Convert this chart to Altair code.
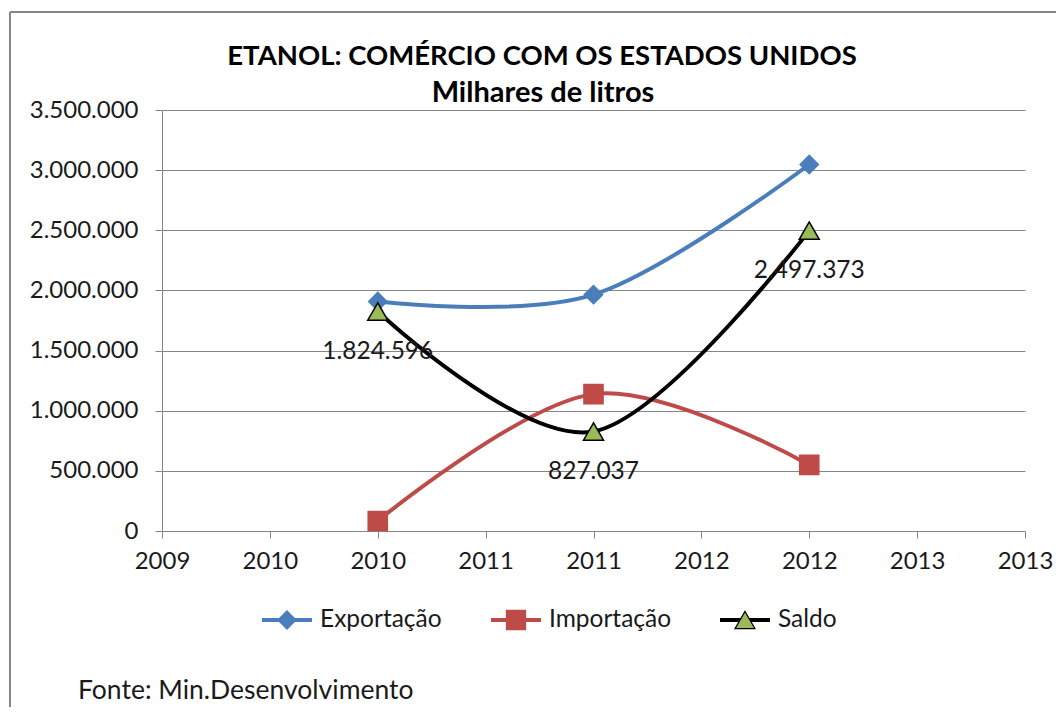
import altair as alt
import pandas as pd

# ---- data ----
years = [2010, 2011, 2012]
series = ["Exportação", "Importação", "Saldo"]
exportacao = [1908000, 1965000, 3047000]
importacao = [83404, 1137963, 549627]
saldo = [1824596, 827037, 2497373]
x_ticks = [2009, 2009.5, 2010, 2010.5, 2011, 2011.5, 2012, 2012.5, 2013]
y_ticks = [0, 500000, 1000000, 1500000, 2000000, 2500000, 3000000, 3500000]
title_text = "ETANOL: COMÉRCIO COM OS ESTADOS UNIDOS"
subtitle_text = "Milhares de litros"
source_text = "Fonte: Min.Desenvolvimento"

line_colors = ["#4A7EBB", "#BE4B48", "#000000"]
fill_colors = ["#4A7EBB", "#BE4B48", "#9BBB59"]
shapes = ["diamond", "square", "triangle-up"]
FONT = "Lato"
LBL = 24

rows = []
for s, vals in zip(series, [exportacao, importacao, saldo]):
    for y, v in zip(years, vals):
        rows.append({"ano": y, "serie": s, "valor": v})
df = pd.DataFrame(rows)
leg = pd.DataFrame({"serie": series})
one = pd.DataFrame({"k": [0]})

dot_fmt = "replace(format(datum.value, ','), regexp(',', 'g'), '.')"

x_enc = alt.X(
    "ano:Q",
    scale=alt.Scale(domain=[2009, 2013], nice=False, zero=False),
    axis=alt.Axis(
        values=x_ticks, labelExpr="format(round(datum.value), 'd')", title=None,
        grid=False, tickSize=7, labelPadding=11, labelFontSize=LBL, labelFont=FONT,
        labelColor="#1a1a1a", domainColor="#868686", tickColor="#868686",
        labelFlush=False, labelOverlap=False,
    ),
)
y_enc = alt.Y(
    "valor:Q",
    scale=alt.Scale(domain=[0, 3500000], nice=False),
    axis=alt.Axis(
        values=y_ticks, labelExpr=dot_fmt, title=None, grid=True,
        gridColor="#868686", tickSize=7, labelPadding=17, labelFontSize=LBL,
        labelFont=FONT, labelColor="#1a1a1a", domainColor="#868686",
        tickColor="#868686", labelOverlap=False,
    ),
)

stroke_scale = alt.Scale(domain=series, range=line_colors)
fill_scale = alt.Scale(domain=series, range=fill_colors)
shape_scale = alt.Scale(domain=series, range=shapes)

lines = alt.Chart(df).mark_line(interpolate="cardinal", tension=0, strokeWidth=4).encode(
    x=x_enc, y=y_enc,
    color=alt.Color("serie:N", scale=stroke_scale, legend=None),
)

points = alt.Chart(df).mark_point(filled=True, opacity=1, strokeWidth=1.5).encode(
    x=x_enc, y=y_enc,
    shape=alt.Shape("serie:N", scale=shape_scale, legend=None),
    fill=alt.Fill("serie:N", scale=fill_scale, legend=None),
    stroke=alt.Stroke("serie:N", scale=stroke_scale, legend=None),
    size=alt.Size("serie:N", scale=alt.Scale(domain=series, range=[330, 400, 420]), legend=None),
)

labels = alt.Chart(df).transform_filter(
    alt.datum.serie == "Saldo"
).transform_calculate(
    rotulo="replace(format(datum.valor, ','), regexp(',', 'g'), '.')"
).mark_text(dy=40, fontSize=24.5, font=FONT, color="#1a1a1a", baseline="middle").encode(
    x=x_enc, y=y_enc, text="rotulo:N"
)

# ---- legend (drawn with marks) ----
leg_x = alt.X("serie:N", scale=alt.Scale(type="point", domain=series, range=[125, 583], padding=0), axis=None)
leg_y = alt.value(510)
leg_lines = alt.Chart(leg).mark_point(shape="stroke", size=2500, strokeWidth=4, filled=False, opacity=1).encode(
    x=leg_x, y=leg_y, stroke=alt.Stroke("serie:N", scale=stroke_scale, legend=None)
)
leg_pts = alt.Chart(leg).mark_point(filled=True, opacity=1, strokeWidth=1.2).encode(
    x=leg_x, y=leg_y,
    shape=alt.Shape("serie:N", scale=shape_scale, legend=None),
    fill=alt.Fill("serie:N", scale=fill_scale, legend=None),
    stroke=alt.Stroke("serie:N", scale=stroke_scale, legend=None),
    size=alt.Size("serie:N", scale=alt.Scale(domain=series, range=[250, 330, 300]), legend=None),
)
leg_txt = alt.Chart(leg).mark_text(align="left", dx=33, baseline="middle", fontSize=24.5, font=FONT, color="#1a1a1a").encode(
    x=leg_x, y=leg_y, text="serie:N"
)

# ---- texts & frame ----
title = alt.Chart(one).mark_text(fontSize=27.5, fontWeight="bold", font=FONT, color="#000000", align="center", baseline="alphabetic").encode(
    x=alt.value(380), y=alt.value(-45), text=alt.value(title_text)
)
subtitle = alt.Chart(one).mark_text(fontSize=29, fontWeight="bold", font=FONT, color="#000000", align="center", baseline="alphabetic").encode(
    x=alt.value(381), y=alt.value(-8), text=alt.value(subtitle_text)
)
source = alt.Chart(one).mark_text(fontSize=26.5, font=FONT, color="#1a1a1a", align="left", baseline="alphabetic").encode(
    x=alt.value(-84), y=alt.value(589), text=alt.value(source_text)
)
frame_top = alt.Chart(one).mark_rule(color="#868686", strokeWidth=2).encode(
    x=alt.value(-152), x2=alt.value(900), y=alt.value(-98)
)
frame_left = alt.Chart(one).mark_rule(color="#868686", strokeWidth=2).encode(
    x=alt.value(-152), y=alt.value(-98), y2=alt.value(700)
)

main = alt.layer(lines, points, labels)
legend_layer = alt.layer(leg_lines, leg_pts, leg_txt)

chart = alt.layer(
    frame_top, frame_left, title, subtitle, source, main, legend_layer
).resolve_scale(x="independent").properties(
    width=863, height=421,
    autosize=alt.AutoSizeParams(type="none"),
    padding={"left": 154, "top": 102, "right": 31, "bottom": 176},
).configure_view(stroke=None)

chart.save("out.html", embed_options={"renderer": "svg", "actions": False})
